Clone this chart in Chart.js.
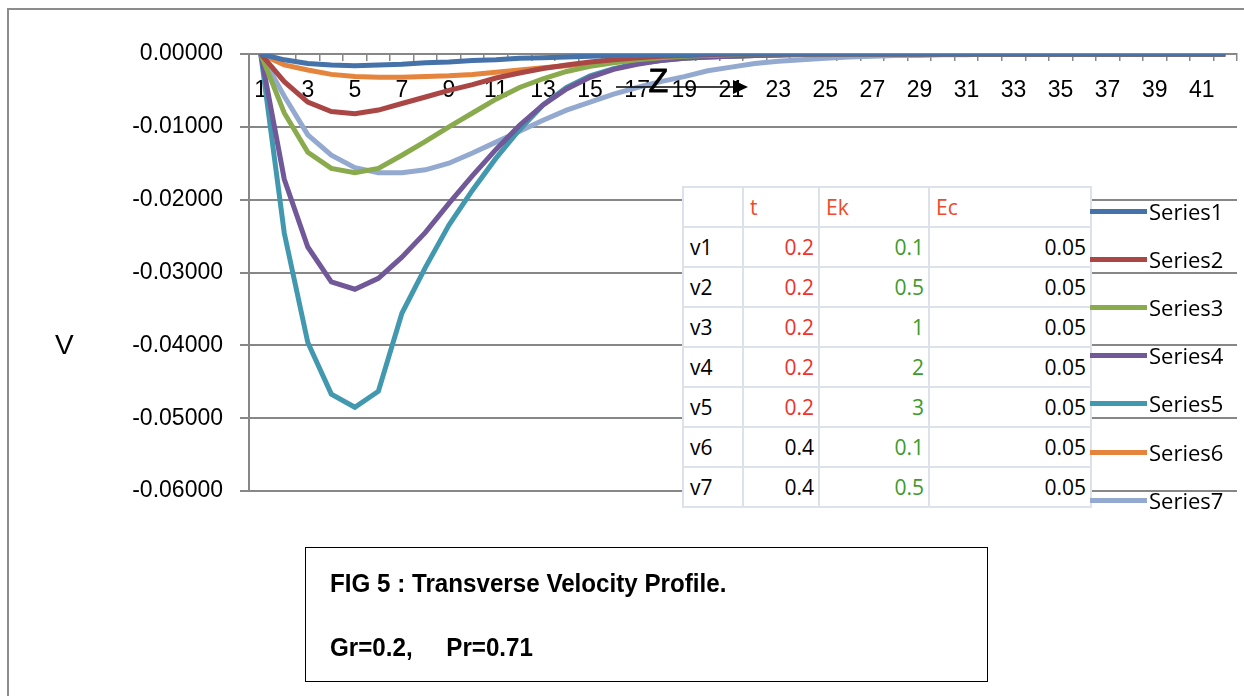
<!DOCTYPE html>
<html>
<head>
<meta charset="utf-8">
<script src="https://cdn.jsdelivr.net/npm/chart.js@4.4.1/dist/chart.umd.min.js"></script>
<style>
  html, body { margin: 0; padding: 0; background: #fff; overflow: hidden; }
  body { width: 1244px; height: 696px; position: relative; font-family: "Liberation Sans", Arial, sans-serif; }
  #frame { position: absolute; left: 7px; top: 8px; width: 1300px; height: 800px; border: 2px solid #8c8c8c; }
  #myChart { position: absolute; left: 0; top: 0; }
  .lbl { position: absolute; color: #000; line-height: 1; }
  #vtable { position: absolute; left: 682px; top: 186px; width: 408px; table-layout: fixed; border-collapse: collapse; background: #fff;
            font-family: "Open Sans", "Noto Sans", sans-serif; font-size: 21px; }
  #vtable td { border: 2px solid #dde2ea; height: 38px; padding: 0 4px 0 6px; }
  #vtable td.num { text-align: right; }
  .red { color: #f0312a; }
  .hdr { color: #f04a2a; }
  .grn { color: #3b9b2c; }
  .leg { position: absolute; left: 1090px; height: 26px; }
  .leg span.ln { position: absolute; left: 0; top: 11px; width: 57px; height: 5px; }
  .leg span.tx { position: absolute; left: 59px; top: 0; font-size: 22px; line-height: 26px; font-family: "Open Sans", "Noto Sans", sans-serif; white-space: nowrap; }
  #caption { position: absolute; left: 305px; top: 547px; width: 681px; height: 133px; border: 1.5px solid #000; background: #fff;
             font-family: "Liberation Sans", Arial, sans-serif; font-weight: bold; font-size: 26px; }
  #caption div { position: absolute; left: 24px; white-space: pre; transform: scaleX(0.93); transform-origin: 0 0; }
</style>
</head>
<body>
<div id="frame"></div>
<canvas id="myChart" width="1244" height="696"></canvas>

<div class="lbl" style="left:55px; top:331px; font-size:28px;">V</div>
<div class="lbl" style="left:648px; top:63px; font-size:34px; transform: scaleX(0.95); -webkit-text-stroke: 0.8px #000;">Z</div>
<svg style="position:absolute; left:0; top:0;" width="1244" height="696">
  <line x1="616" y1="87" x2="735" y2="87" stroke="#000" stroke-width="1.6"/>
  <polygon points="733,80 748,87 733,94" fill="#000"/>
</svg>

<table id="vtable"></table>
<div id="legend"></div>

<div id="caption">
  <div style="top:20px;">FIG 5 : Transverse Velocity Profile.</div>
  <div style="top:84px;">Gr=0.2,     Pr=0.71</div>
</div>

<script>
// categories (Z)
var zLabels = ['1','2','3','4','5','6','7','8','9','10','11','12','13','14','15','16','17','18','19','20','21',
               '22','23','24','25','26','27','28','29','30','31','32','33','34','35','36','37','38','39','40','41','42'];

// series values (V)
var series1 = [0, -0.0008, -0.0013, -0.0015, -0.0016, -0.0015, -0.0014, -0.0012, -0.0011, -0.0009, -0.0008, -0.0006, -0.0005, -0.0004,
               -0.0003, -0.0002, -0.0002, -0.0001, -0.0001, 0, 0, 0, 0, 0, 0, 0, 0, 0, 0, 0, 0, 0, 0, 0, 0, 0, 0, 0, 0, 0, 0, 0];
var series2 = [0, -0.0038, -0.0066, -0.0079, -0.0082, -0.0077, -0.0068, -0.0059, -0.0050, -0.0042, -0.0033, -0.0026, -0.0020, -0.0015,
               -0.0011, -0.0008, -0.0005, -0.0003, -0.0002, -0.0001, 0, 0, 0, 0, 0, 0, 0, 0, 0, 0, 0, 0, 0, 0, 0, 0, 0, 0, 0, 0, 0, 0];
var series3 = [0, -0.0081, -0.0135, -0.0157, -0.0163, -0.0157, -0.0139, -0.0120, -0.0100, -0.0081, -0.0062, -0.0046, -0.0034, -0.0024,
               -0.0017, -0.0012, -0.0008, -0.0005, -0.0003, -0.0002, -0.0001, 0, 0, 0, 0, 0, 0, 0, 0, 0, 0, 0, 0, 0, 0, 0, 0, 0, 0, 0, 0, 0];
var series4 = [0, -0.0172, -0.0265, -0.0313, -0.0323, -0.0308, -0.0279, -0.0245, -0.0205, -0.0167, -0.0131, -0.0098, -0.0070, -0.0048,
               -0.0032, -0.0021, -0.0014, -0.0009, -0.0006, -0.0004, -0.0003, -0.0002, -0.0001, 0, 0, 0, 0, 0, 0, 0, 0, 0, 0, 0, 0, 0, 0, 0, 0, 0, 0, 0];
var series5 = [0, -0.0246, -0.0396, -0.0467, -0.0485, -0.0463, -0.0356, -0.0293, -0.0235, -0.0187, -0.0143, -0.0104, -0.0070, -0.0046,
               -0.0030, -0.0020, -0.0013, -0.0009, -0.0006, -0.0004, -0.0003, -0.0002, -0.0001, 0, 0, 0, 0, 0, 0, 0, 0, 0, 0, 0, 0, 0, 0, 0, 0, 0, 0, 0];
var series6 = [0, -0.0015, -0.0022, -0.0028, -0.0031, -0.0032, -0.0032, -0.0031, -0.0030, -0.0028, -0.0025, -0.0022, -0.0019, -0.0016,
               -0.0013, -0.0011, -0.0009, -0.0007, -0.0005, -0.0004, -0.0003, -0.0002, -0.0002, -0.0001, -0.0001, 0, 0, 0, 0, 0, 0, 0, 0, 0, 0, 0, 0, 0, 0, 0, 0, 0];
var series7 = [0, -0.0058, -0.0111, -0.0139, -0.0156, -0.0163, -0.0163, -0.0159, -0.0150, -0.0136, -0.0121, -0.0106, -0.0091, -0.0077,
               -0.0066, -0.0055, -0.0046, -0.0038, -0.0031, -0.0023, -0.0018, -0.0013, -0.0010, -0.0008, -0.0006, -0.0004, -0.0003, -0.0002,
               -0.0002, -0.0001, -0.0001, 0, 0, 0, 0, 0, 0, 0, 0, 0, 0, 0];

var seriesNames = ['Series1', 'Series2', 'Series3', 'Series4', 'Series5', 'Series6', 'Series7'];
var seriesColors = ['#4672aa', '#aa4643', '#8aab4d', '#715898', '#4198af', '#e5843c', '#93a9d0'];
var allSeries = [series1, series2, series3, series4, series5, series6, series7];

// y tick values
var yMin = -0.06, yMax = 0, yStep = 0.01;

// parameter table
var rowNames = ['v1', 'v2', 'v3', 'v4', 'v5', 'v6', 'v7'];
var tVals = ['0.2', '0.2', '0.2', '0.2', '0.2', '0.4', '0.4'];
var ekVals = ['0.1', '0.5', '1', '2', '3', '0.1', '0.5'];
var ecVals = ['0.05', '0.05', '0.05', '0.05', '0.05', '0.05', '0.05'];

var gridGray = '#878787';

var ctx = document.getElementById('myChart').getContext('2d');
var myChart = new Chart(ctx, {
    type: 'line',
    data: {
        labels: zLabels,
        datasets: allSeries.map(function(vals, i) {
            return {
                label: seriesNames[i],
                data: vals,
                borderColor: seriesColors[i],
                backgroundColor: seriesColors[i],
                borderWidth: 5,
                pointRadius: 0,
                tension: 0,
                fill: false
            };
        })
    },
    options: {
        responsive: false,
        animation: false,
        devicePixelRatio: 1,
        layout: { padding: { left: 0, top: 54, right: 7, bottom: 205 } },
        plugins: { legend: { display: false }, tooltip: { enabled: false } },
        scales: {
            x: {
                position: { y: 0 },
                offset: true,
                grid: { drawOnChartArea: false, offset: true, tickLength: 6, color: gridGray, lineWidth: 1.5 },
                border: { color: gridGray, width: 2 },
                ticks: {
                    autoSkip: false,
                    maxRotation: 0,
                    padding: 17,
                    color: '#000',
                    font: { family: 'Liberation Sans', size: 23 },
                    callback: function(val, i) { return i % 2 === 0 ? zLabels[i] : ''; }
                }
            },
            y: {
                min: yMin,
                max: yMax,
                grid: { color: gridGray, lineWidth: 2, tickLength: 9 },
                border: { color: gridGray, width: 2 },
                ticks: {
                    stepSize: yStep,
                    padding: 17,
                    color: '#000',
                    font: { family: 'Liberation Sans', size: 23 },
                    callback: function(val) { return Number(val).toFixed(5); }
                },
                afterFit: function(scale) { scale.width = 249; }
            }
        }
    }
});

// Parameter table
var table = document.getElementById('vtable');
var cols = '<colgroup><col style="width:60px"><col style="width:76px"><col style="width:110px"><col style="width:162px"></colgroup>';
var head = '<tr><td></td><td class="hdr">t</td><td class="hdr">Ek</td><td class="hdr">Ec</td></tr>';
var rows = rowNames.map(function(name, i) {
    var tClass = i < 5 ? 'num red' : 'num';
    return '<tr><td>' + name + '</td><td class="' + tClass + '">' + tVals[i] + '</td>' +
           '<td class="num grn">' + ekVals[i] + '</td><td class="num">' + ecVals[i] + '</td></tr>';
});
table.innerHTML = cols + head + rows.join('');

// Legend
var legend = document.getElementById('legend');
seriesNames.forEach(function(name, i) {
    var item = document.createElement('div');
    item.className = 'leg';
    item.style.top = (198 + i * 48.1) + 'px';
    item.innerHTML = '<span class="ln" style="background:' + seriesColors[i] + '"></span><span class="tx">' + name + '</span>';
    legend.appendChild(item);
});
</script>
</body>
</html>
